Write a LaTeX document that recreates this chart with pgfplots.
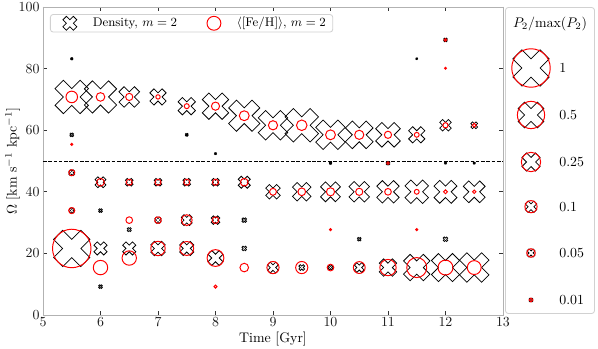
\documentclass[border=0pt]{standalone}
\usepackage{pgfplots}
\pgfplotsset{compat=1.18}
\usepackage{pgfplotstable}

% matplotlib-like filled "X" marker outline (rotated plus)
\pgfdeclareplotmark{Xf}{%
  \pgfpathmoveto{\pgfpoint{0.4714\pgfplotmarksize}{-0.9428\pgfplotmarksize}}%
  \pgfpathlineto{\pgfpoint{0.9428\pgfplotmarksize}{-0.4714\pgfplotmarksize}}%
  \pgfpathlineto{\pgfpoint{0.4714\pgfplotmarksize}{0pt}}%
  \pgfpathlineto{\pgfpoint{0.9428\pgfplotmarksize}{0.4714\pgfplotmarksize}}%
  \pgfpathlineto{\pgfpoint{0.4714\pgfplotmarksize}{0.9428\pgfplotmarksize}}%
  \pgfpathlineto{\pgfpoint{0pt}{0.4714\pgfplotmarksize}}%
  \pgfpathlineto{\pgfpoint{-0.4714\pgfplotmarksize}{0.9428\pgfplotmarksize}}%
  \pgfpathlineto{\pgfpoint{-0.9428\pgfplotmarksize}{0.4714\pgfplotmarksize}}%
  \pgfpathlineto{\pgfpoint{-0.4714\pgfplotmarksize}{0pt}}%
  \pgfpathlineto{\pgfpoint{-0.9428\pgfplotmarksize}{-0.4714\pgfplotmarksize}}%
  \pgfpathlineto{\pgfpoint{-0.4714\pgfplotmarksize}{-0.9428\pgfplotmarksize}}%
  \pgfpathlineto{\pgfpoint{0pt}{-0.4714\pgfplotmarksize}}%
  \pgfpathclose
  \pgfusepathqstroke
}

\pgfplotsset{
  sized/.style={scatter, only marks, forget plot,
    visualization depends on={13.86*sqrt(\thisrow{p}) \as \msz},
    scatter/@pre marker code/.code={\scope[/tikz/mark size=\msz]},
    scatter/@post marker code/.code={\endscope}},
  densX/.style={sized, mark=Xf, draw=black, line width=0.55pt},
  fehO/.style={sized, mark=o, draw=red, line width=0.7pt},
}

% Density, m=2 : time, Omega, P2/max(P2)
\pgfplotstableread{
t w p
5.5 83.2 0.003
5.5 70.8 0.85
5.5 58.5 0.01
5.5 46.2 0.025
5.5 33.9 0.02
5.5 21.6 1.0
6 70.8 0.79
6 43.1 0.09
6 33.9 0.01
6 21.6 0.13
6 9.2 0.01
6.5 70.8 0.32
6.5 43.1 0.045
6.5 27.7 0.012
6.5 21.6 0.13
7 70.8 0.2
7 43.1 0.045
7 30.8 0.03
7 21.6 0.16
7.5 67.8 0.23
7.5 58.5 0.006
7.5 43.1 0.045
7.5 30.8 0.09
7.5 21.6 0.15
8 67.8 0.53
8 52.4 0.003
8 43.1 0.045
8 30.8 0.055
8 18.5 0.17
8.5 64.7 0.74
8.5 43.1 0.11
8.5 30.8 0.016
8.5 21.6 0.016
9 61.6 0.66
9 40.0 0.16
9 15.4 0.09
9.5 61.6 0.85
9.5 40.0 0.26
9.5 15.4 0.025
10 58.5 0.66
10 49.3 0.004
10 40.0 0.3
10 15.4 0.016
10.5 58.5 0.58
10.5 40.0 0.32
10.5 24.6 0.01
10.5 15.4 0.07
11 58.5 0.46
11 49.3 0.01
11 40.0 0.38
11 15.4 0.23
11.5 83.2 0.002
11.5 58.5 0.2
11.5 40.0 0.42
11.5 15.4 0.53
12 89.3 0.01
12 61.6 0.1
12 49.3 0.003
12 40.0 0.4
12 24.6 0.016
12 15.4 0.6
12.5 61.6 0.035
12.5 49.3 0.003
12.5 40.0 0.36
12.5 15.4 0.66
}\dens

% <[Fe/H]>, m=2
\pgfplotstableread{
t w p
5.5 70.8 0.09
5.5 55.4 0.003
5.5 46.2 0.025
5.5 33.9 0.025
5.5 21.6 1.0
6 70.8 0.05
6 43.1 0.04
6 15.4 0.14
6.5 70.8 0.035
6.5 43.1 0.025
6.5 30.8 0.03
6.5 18.5 0.14
7 70.8 0.013
7 43.1 0.025
7 30.8 0.03
7 21.6 0.14
7.5 67.8 0.017
7.5 43.1 0.025
7.5 30.8 0.08
7.5 21.6 0.13
8 67.8 0.045
8 43.1 0.025
8 30.8 0.03
8 18.5 0.19
8 9.2 0.006
8.5 64.7 0.066
8.5 43.1 0.04
8.5 15.4 0.05
9 61.6 0.057
9 40.0 0.032
9 15.4 0.1
9.5 61.6 0.075
9.5 40.0 0.04
9.5 15.4 0.1
10 58.5 0.066
10 40.0 0.045
10 27.7 0.003
10 15.4 0.03
10.5 58.5 0.057
10.5 40.0 0.035
10.5 15.4 0.095
11 58.5 0.035
11 49.3 0.005
11 40.0 0.03
11 15.4 0.18
11.5 58.5 0.016
11.5 40.0 0.016
11.5 27.7 0.003
11.5 15.4 0.27
12 89.3 0.005
12 80.1 0.002
12 61.6 0.018
12 40.0 0.01
12 15.4 0.15
12.5 61.6 0.01
12.5 40.0 0.008
12.5 15.4 0.13
}\feh

% size legend (positions in legend-box units)
\pgfplotstableread{
t w p
531 -68 1
531 -115 0.5
531 -162 0.25
531 -206.7 0.1
531 -253 0.05
531 -300 0.01
}\sizeleg

\begin{document}
\begin{tikzpicture}
\useasboundingbox (-30.96pt,-24.48pt) rectangle (399.6pt,226.8pt);
\begin{axis}[
  at={(0pt,0pt)}, anchor=south west,
  scale only axis, width=331.2pt, height=221.76pt,
  xmin=5, xmax=13, ymin=0, ymax=100,
  xtick={5,...,13}, ytick={0,20,...,100},
  tick align=inside, major tick length=3pt,
  axis line style={black!30, line width=0.6pt},
  every tick/.style={black!80, line width=0.6pt},
  tick label style={font=\fontsize{10}{12}\selectfont, text=black!90},
  xticklabel style={yshift=1.5pt},
  yticklabel style={xshift=1pt},
  xlabel={Time [Gyr]},
  ylabel={$\Omega$ [km s$^{-1}$ kpc$^{-1}$]},
  xlabel style={at={(axis description cs:0.5,-0.078)}, anchor=center, font=\fontsize{10}{12}\selectfont},
  ylabel style={at={(axis description cs:-0.066,0.5)}, anchor=center, font=\fontsize{10}{12}\selectfont},
  legend columns=2,
  legend cell align=left,
  legend style={at={(0.0152,0.977)}, anchor=north west,
    draw=black!18, line width=0.6pt, rounded corners=2pt, fill=white,
    font=\fontsize{9}{11}\selectfont,
    inner xsep=3pt, inner ysep=1.2pt,
    nodes={inner xsep=2pt, inner ysep=1pt},
    /tikz/every even column/.append style={column sep=13.5pt}},
]
\addlegendimage{legend image code/.code={%
    \path[draw=none, fill=none] (0pt,0pt) -- (25.5pt,0pt);
    \draw[only marks, mark=Xf, mark size=5.3pt, black, line width=0.55pt] plot coordinates {(11pt,0pt)};}}
\addlegendentry{Density, $m=2$}
\addlegendimage{legend image code/.code={%
    \path[draw=none, fill=none] (0pt,0pt) -- (25.5pt,0pt);
    \draw[only marks, mark=o, mark size=5pt, red, line width=0.7pt] plot coordinates {(11pt,0pt)};}}
\addlegendentry{$\langle[\mathrm{Fe/H}]\rangle$, $m=2$}

\addplot[black, line width=0.7pt, dash pattern=on 2.6pt off 1.2pt, forget plot]
  coordinates {(5,50) (13,50)};
\addplot[densX] table[x=t, y=w] {\dens};
\addplot[fehO] table[x=t, y=w] {\feh};
\end{axis}

\begin{axis}[
  at={(332.64pt,0.72pt)}, anchor=south west,
  scale only axis, width=64.8pt, height=221.04pt,
  xmin=505, xmax=595, ymin=-314, ymax=-7,
  hide axis, clip=false,
]
\draw[black!18, line width=0.6pt, rounded corners=2pt, fill=white]
  (axis cs:505.5,-313.5) rectangle (axis cs:594.5,-7.5);
\addplot[densX] table[x=t, y=w] {\sizeleg};
\addplot[fehO] table[x=t, y=w] {\sizeleg};
\node[font=\fontsize{10}{12}\selectfont] at (axis cs:550,-24) {$P_2/\mathrm{max}(P_2)$};
\node[anchor=west, font=\fontsize{10}{12}\selectfont] at (axis cs:554.5,-68) {$1$};
\node[anchor=west, font=\fontsize{10}{12}\selectfont] at (axis cs:554.5,-115) {$0.5$};
\node[anchor=west, font=\fontsize{10}{12}\selectfont] at (axis cs:554.5,-162) {$0.25$};
\node[anchor=west, font=\fontsize{10}{12}\selectfont] at (axis cs:554.5,-206.7) {$0.1$};
\node[anchor=west, font=\fontsize{10}{12}\selectfont] at (axis cs:554.5,-253) {$0.05$};
\node[anchor=west, font=\fontsize{10}{12}\selectfont] at (axis cs:554.5,-300) {$0.01$};
\end{axis}
\end{tikzpicture}
\end{document}
